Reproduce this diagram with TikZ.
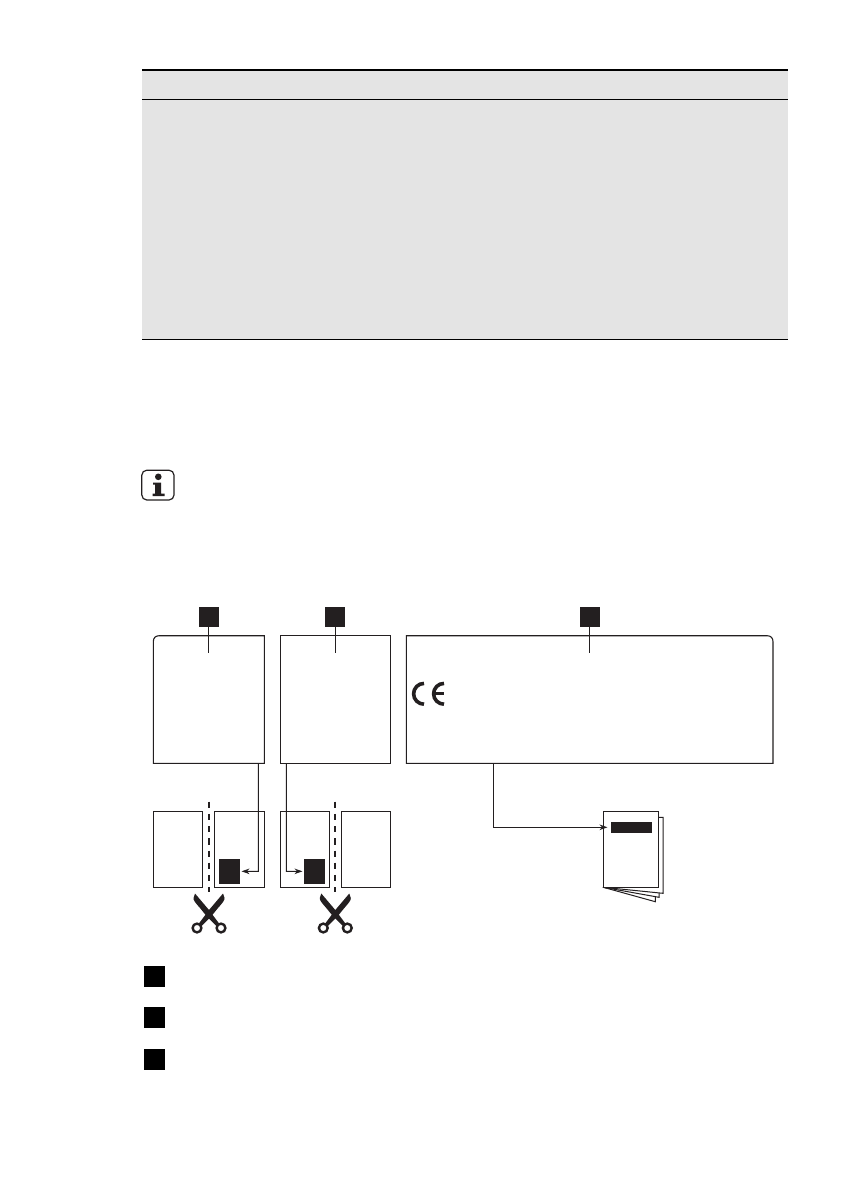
\documentclass[tikz,border=0pt]{standalone}
\usetikzlibrary{arrows.meta}
\definecolor{ink}{HTML}{231F20}
\definecolor{band}{HTML}{E4E4E4}
\tikzset{
  x=1pt,y=-1pt,
  panel/.style={draw=none,rectangle,inner sep=0pt,outer sep=0pt,anchor=north west},
  sheet/.style={draw=ink,fill=white,line width=1.1pt,rectangle,inner sep=0pt,outer sep=0pt,anchor=north west},
  tag/.style={fill=ink,rectangle,inner sep=0pt,outer sep=0pt,anchor=north west,minimum width=20pt,minimum height=20pt},
  legendtag/.style={fill=black,rectangle,inner sep=0pt,outer sep=0pt,anchor=north west,minimum width=21pt,minimum height=21pt},
  block/.style={fill=ink,rectangle,inner sep=0pt,outer sep=0pt,anchor=north west},
  outline/.style={draw=ink,line width=1.1pt},
  leader/.style={draw=ink,line width=1.1pt},
  conn/.style={draw=ink,line width=1.1pt,-{Stealth[length=8pt,width=5.5pt]},shorten >=1.5pt},
  cutline/.style={draw=ink,line width=2.6pt,dash pattern=on 6.2pt off 6pt},
  rule/.style={draw=black},
  scissorpic/.pic={
    \foreach \s in {1,-1}{
      \begin{scope}[xscale=\s]
        \fill[ink] (-14,-0.5) -- (0,16) -- (10.5,30) -- (7.5,32) -- (-2.5,22) -- (-9,14) .. controls (-13,9.5) and (-16,6) .. (-15.5,4) -- cycle;
        \draw[ink,line width=2.4pt,fill=white] (12,34) circle (4.4);
      \end{scope}
    }
  }
}
\begin{document}
\begin{tikzpicture}
\useasboundingbox (0,0) rectangle (840,1190);
\fill[white] (0,0) rectangle (840,1190);
% table band
\fill[band] (142,70) rectangle (788,339.5);
\coordinate (ruleL1) at (142,70);   \coordinate (ruleR1) at (788,70);
\coordinate (ruleL2) at (142,99.3); \coordinate (ruleR2) at (788,99.3);
\coordinate (ruleL3) at (142,339.5);\coordinate (ruleR3) at (788,339.5);
\draw[rule,line width=2pt] (ruleL1) -- (ruleR1);
\draw[rule,line width=1pt] (ruleL2) -- (ruleR2);
\draw[rule,line width=1pt] (ruleL3) -- (ruleR3);
% info icon
\draw[ink,line width=1.2pt,rounded corners=5pt] (141.8,470.2) rectangle (174,500);
\fill[ink] (158.3,476.8) circle (3.3);
\fill[ink] (153,482.5) -- (161,482.5) -- (161,493.5) -- (164.5,493.5) -- (164.5,496) -- (152.5,496) -- (152.5,493.5) -- (155,493.5) -- (155,484.5) -- (153,484.5) -- cycle;
% upper panels
\node[panel,minimum width=111pt,minimum height=127.6pt] (box1) at (153.3,635.7) {};
\node[panel,minimum width=110.4pt,minimum height=127.6pt] (box2) at (280.3,635.7) {};
\node[panel,minimum width=366.7pt,minimum height=127.6pt] (box3) at (406.3,635.7) {};
\draw[outline] (153.3,641.7) -- (153.3,763.3) -- (264.3,763.3) -- (264.3,635.7) -- (159.3,635.7) .. controls (155.5,635.7) and (153.3,637.9) .. (153.3,641.7) -- cycle;
\draw[outline] (box2.north west) rectangle (box2.south east);
\draw[outline] (406.3,635.7) -- (406.3,763.3) -- (773,763.3) -- (773,641.7) .. controls (773,637.9) and (770.8,635.7) .. (767,635.7) -- cycle;
% number tags
\node[tag] (tag1) at (199,607) {};
\node[tag] (tag2) at (325,607) {};
\node[tag] (tag3) at (580,607) {};
\coordinate (lead1) at (208.3,653.3);
\coordinate (lead2) at (335.3,653.3);
\coordinate (lead3) at (589.3,653.3);
\draw[leader] (tag1.south -| lead1) -- (lead1);
\draw[leader] (tag2.south -| lead2) -- (lead2);
\draw[leader] (tag3.south -| lead3) -- (lead3);
% CE mark
\draw[ink,line width=3.6pt] (424,683.4) arc[start angle=-90,delta angle=-180,radius=10.4];
\draw[ink,line width=3.6pt] (444,683.4) arc[start angle=-90,delta angle=-180,radius=10.4];
\draw[ink,line width=3pt] (433,693.8) -- (443.5,693.8);
% lower sheets
\node[sheet,minimum width=49.4pt,minimum height=76pt] (s1) at (153.3,811.3) {};
\node[sheet,minimum width=50pt,minimum height=76pt] (s2) at (214.3,811.3) {};
\node[sheet,minimum width=49.4pt,minimum height=76pt] (s3) at (280.3,811.3) {};
\node[sheet,minimum width=49.4pt,minimum height=76pt] (s4) at (341.3,811.3) {};
\node[block,minimum width=21pt,minimum height=24.7pt] (blk1) at (219,859) {};
\node[block,minimum width=21pt,minimum height=24.7pt] (blk2) at (304,859) {};
% cut lines
\coordinate (cutA1) at (209,801.7); \coordinate (cutA2) at (209,892);
\coordinate (cutB1) at (335,801.7); \coordinate (cutB2) at (335,892);
\draw[cutline] (cutA1) -- (cutA2);
\draw[cutline] (cutB1) -- (cutB2);
\pic at (209,894) {scissorpic};
\pic at (335.3,894) {scissorpic};
% booklet
\draw[ink,line width=1pt,fill=white] (603.3,887.3) -- (655.3,901.7) -- (655.3,893) -- cycle;
\draw[ink,line width=1pt,fill=white] (603.3,887.3) -- (659,897.3) -- (659,889) -- cycle;
\draw[ink,line width=1pt,fill=white] (640,817.3) -- (663,817.3) -- (663,893.3) -- (603.3,887.3) -- cycle;
\node[sheet,minimum width=55.4pt,minimum height=76pt] (page) at (603.3,811.3) {};
\node[block,minimum width=41pt,minimum height=10.7pt] (pagebar) at (611,822) {};
% connectors
\coordinate (bendA) at (258.3,871.3);
\coordinate (bendB) at (286.3,871.3);
\coordinate (bendC) at (493.3,827.3);
\coordinate (tipC) at (609,827.3);
\draw[conn] (box1.south -| bendA) -- (bendA) -- (blk1.east);
\draw[conn] (box2.south -| bendB) -- (bendB) -- (blk2.west);
\draw[conn] (box3.south -| bendC) -- (bendC) -- (tipC);
% legend tags
\node[legendtag] (key1) at (144,966) {};
\node[legendtag] (key2) at (144,1007) {};
\node[legendtag] (key3) at (144,1048.5) {};
\end{tikzpicture}
\end{document}
